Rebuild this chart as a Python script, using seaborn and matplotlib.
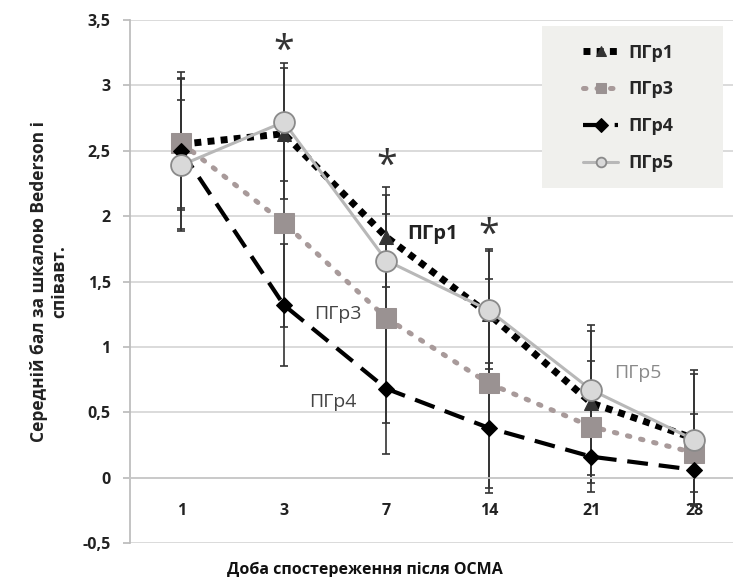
import matplotlib
matplotlib.use("Agg")
import matplotlib.pyplot as plt
from matplotlib.patches import Rectangle
import seaborn as sns
import pandas as pd
import numpy as np

days = ["1", "3", "7", "14", "21", "28"]
g1 = [2.55, 2.63, 1.84, 1.25, 0.57, 0.30]
g3 = [2.56, 1.95, 1.22, 0.72, 0.39, 0.19]
g4 = [2.50, 1.32, 0.68, 0.38, 0.16, 0.06]
g5 = [2.39, 2.72, 1.66, 1.28, 0.67, 0.29]
e1 = [0.50, 0.50, 0.38, 0.50, 0.55, 0.52]
e3 = [0.50, 0.80, 0.80, 0.80, 0.50, 0.30]
e4 = [0.60, 0.47, 0.50, 0.50, 0.20, 0.26]
e5 = [0.50, 0.45, 0.50, 0.45, 0.50, 0.50]
star_days = ["3", "7", "14"]
star_y = [3.26, 2.38, 1.85]
ylabel = "Середній бал за шкалою Bederson і\nспівавт."
xlabel = "Доба спостереження після ОСМА"

sns.set_theme(style="white")
plt.rcParams['font.family'] = ['Open Sans', 'DejaVu Sans']

fig = plt.figure(figsize=(7.33, 5.77), dpi=100)
ax = fig.add_axes([130/733, 34/577, 603/733, 523/577])

pos = list(range(len(days)))
series = [
    ("ПГр1", g1, e1, dict(color="black", linestyle=(0, (1, 0.9)), linewidth=5.0,
                          marker="^", markersize=10, markerfacecolor="#333333",
                          markeredgecolor="#333333")),
    ("ПГр3", g3, e3, dict(color="#a89a9a", linestyle=(0, (0.5, 2.2)), linewidth=3.6,
                          dash_capstyle="round", marker="s", markersize=15,
                          markerfacecolor="#9a9292", markeredgecolor="#9a9292")),
    ("ПГр4", g4, e4, dict(color="black", linestyle=(0, (5, 2.6)), linewidth=3.0,
                          marker="D", markersize=8, markerfacecolor="black",
                          markeredgecolor="black")),
    ("ПГр5", g5, e5, dict(color="#b8b8b8", linestyle="-", linewidth=2.2,
                          marker="o", markersize=15, markerfacecolor="#d9d9d9",
                          markeredgecolor="#8a8a8a", markeredgewidth=1.3)),
]

for name, vals, errs, st in series:
    ax.errorbar(pos, vals, yerr=errs, fmt="none", ecolor="#333333", elinewidth=1.2,
                capsize=3, capthick=1.2, zorder=2)

for name, vals, errs, st in series:
    df = pd.DataFrame({"x": pos, "y": vals})
    sns.lineplot(data=df, x="x", y="y", ax=ax, label=name, zorder=3, **st)

for d, y in zip(star_days, star_y):
    ax.text(days.index(d), y, "*", ha="center", va="center", fontsize=27,
            color="#333333")

ax.text(2.2, 1.86, "ПГр1", fontsize=14.5, fontweight="bold", color="#222222",
        ha="left", va="center")
ax.text(1.53, 1.25, "ПГр3", fontsize=14, color="#444444", ha="center", va="center")
ax.text(1.48, 0.58, "ПГр4", fontsize=14, color="#444444", ha="center", va="center")
ax.text(4.45, 0.80, "ПГр5", fontsize=14, color="#8a8a8a", ha="center", va="center")

# spine placement first (it resets tick objects)
for s in ["top", "right"]:
    ax.spines[s].set_visible(False)
ax.spines["bottom"].set_position(("data", 0))
ax.spines["bottom"].set_color("#c8c8c8")
ax.spines["left"].set_color("#bbbbbb")

ax.set_xlim(-0.5, 5.38)
ax.set_ylim(-0.5, 3.5)
yt = np.arange(-0.5, 3.51, 0.5)
ax.set_yticks(yt)
ax.set_yticklabels([f"{v:g}".replace(".", ",") for v in yt])
ax.set_xticks(pos)
ax.set_xticklabels(days)
ax.set_xticks([p + 0.5 for p in pos[:-1]] + [-0.5], minor=True)
ax.tick_params(axis="x", which="major", length=0, pad=18.5)
ax.tick_params(axis="x", which="minor", length=4, color="#cccccc", direction="out")
ax.tick_params(axis="y", which="major", length=5, color="#bbbbbb", direction="out",
               left=True, pad=9)
for lab in ax.get_xticklabels() + ax.get_yticklabels():
    lab.set_fontweight("bold")
    lab.set_fontsize(11.5)
    lab.set_color("#222222")

ax.grid(axis="y", color="#d4d4d4", linewidth=1.2)
ax.set_axisbelow(True)

ax.set_ylabel(ylabel, fontsize=12.5, fontweight="bold", color="#222222", labelpad=10)
ax.set_xlabel(xlabel, fontsize=11.5, fontweight="bold", color="#111111")
ax.xaxis.set_label_coords(0.39, -0.035)

# legend background box
ax.add_patch(Rectangle((0.683, 0.679), 0.30, 0.31, transform=ax.transAxes,
                       facecolor="#f0f0ed", edgecolor="none", zorder=4.5,
                       clip_on=False))
leg = ax.legend(loc="upper left", bbox_to_anchor=(0.752, 0.955), frameon=False,
                handlelength=1.9, labelspacing=1.05, borderpad=0, borderaxespad=0,
                handletextpad=0.6, prop={"weight": "bold", "size": 13})
leg.set_zorder(5)
for h in leg.get_lines():
    h.set_markersize(7)

fig.savefig("out.png", dpi=100)
